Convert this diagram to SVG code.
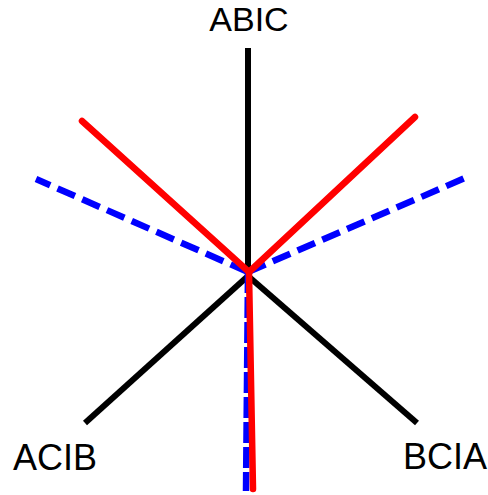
<svg xmlns="http://www.w3.org/2000/svg" width="488" height="495" viewBox="0 0 488 495">
<style>
.lbl{font-family:"Liberation Sans",Arial,sans-serif;font-size:34px;fill:#000;text-anchor:middle}
.k{stroke:#000;stroke-width:6;fill:none}
.r{stroke:#f00;stroke-width:6.5;fill:none;stroke-linecap:round}
.b{stroke:#00f;stroke-width:6.5;fill:none;stroke-dasharray:19,8}
.bv{stroke:#00f;stroke-width:6.5;fill:none;stroke-dasharray:21,4}
</style>
<rect width="488" height="495" fill="#fff"/>
<g id="connectors">
<line class="k" x1="248" y1="48" x2="248" y2="276"/>
<line class="k" x1="248" y1="276" x2="85" y2="423"/>
<line class="k" x1="248" y1="276" x2="417" y2="423"/>
<line class="b" x1="248" y1="272" x2="36" y2="179"/>
<line class="b" x1="248" y1="272" x2="465" y2="178"/>
<line class="bv" x1="248" y1="272" x2="246" y2="491"/>
<line class="r" x1="249" y1="272" x2="82" y2="121"/>
<line class="r" x1="249" y1="272" x2="415" y2="117"/>
<line class="r" x1="249" y1="272" x2="253" y2="489"/>
</g>
<g id="ABIC"><text class="lbl" x="249" y="31">ABIC</text></g>
<g id="ACIB"><text class="lbl" x="55" y="470" style="font-size:36px">ACIB</text></g>
<g id="BCIA"><text class="lbl" x="445" y="469" style="font-size:36px">BCIA</text></g>
</svg>
